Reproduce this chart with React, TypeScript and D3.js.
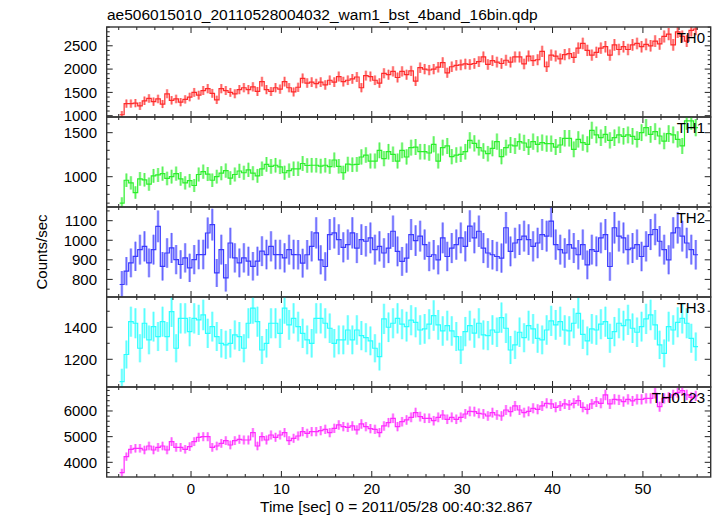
import React from "react";
import * as d3 from "d3";

const TITLE = "ae506015010_20110528004032_wam1_bst_4band_16bin.qdp";
const X_LABEL = "Time [sec] 0 = 2011/05/28 00:40:32.867";
const Y_LABEL = "Counts/sec";
const BIN_START = -7.9;
const BIN_WIDTH = 0.5;
const X_DOMAIN = [-9.33, 57.5];
const X_MAJOR = [0, 10, 20, 30, 40, 50];
const X_MINOR_STEP = 2;

const TH0 = [
  1020, 1260, 1260, 1270, 1210, 1320, 1370, 1300, 1360, 1250,
  1470, 1330, 1360, 1290, 1350, 1400, 1500, 1440, 1540, 1580,
  1480, 1340, 1580, 1540, 1500, 1470, 1560, 1600, 1560, 1620,
  1520, 1730, 1560, 1520, 1600, 1570, 1730, 1600, 1510, 1610,
  1800, 1700, 1720, 1690, 1720, 1660, 1760, 1720, 1840, 1730,
  1760, 1790, 1830, 1600, 1860, 1840, 1760, 1700, 1910, 1880,
  1950, 1820, 1950, 1880, 1960, 1740, 2030, 2000, 1980, 2000,
  2040, 2140, 1920, 2050, 2080, 2090, 2110, 2100, 2120, 2160,
  2260, 2100, 2180, 2150, 2120, 2190, 2150, 2260, 2260, 2110,
  2280, 2180, 2200, 2380, 2050, 2300, 2280, 2220, 2310, 2330,
  2250, 2450, 2550, 2400, 2300, 2360, 2450, 2480, 2300, 2520,
  2420, 2480, 2420, 2520, 2550, 2480, 2530, 2500, 2600, 2540,
  2700, 2750, 2520, 2800, 2700, 2600, 2830, 2860,
];

const TH1 = [
  700, 960, 930, 820, 975, 965, 915, 1010, 1020, 1035,
  980, 1000, 1035, 975, 930, 955, 900, 1025, 1057, 1030,
  960, 1000, 1040, 1070, 985, 1025, 1065, 1045, 1078, 1040,
  1010, 1090, 1140, 1117, 1130, 1112, 1045, 1070, 1090, 1090,
  1150, 1127, 1130, 1130, 1120, 1130, 1115, 1190, 1118, 1045,
  1142, 1136, 1140, 1224, 1246, 1178, 1178, 1300, 1205, 1284,
  1254, 1178, 1300, 1224, 1330, 1337, 1284, 1284, 1269, 1368,
  1178, 1330, 1349, 1227, 1246, 1254, 1284, 1413, 1379, 1330,
  1292, 1262, 1322, 1398, 1227, 1330, 1360, 1349, 1398, 1383,
  1337, 1398, 1368, 1387, 1375, 1375, 1337, 1360, 1436, 1436,
  1311, 1424, 1387, 1368, 1527, 1474, 1443, 1481, 1413, 1443,
  1474, 1459, 1474, 1459, 1424, 1500, 1557, 1481, 1512, 1462,
  1405, 1489, 1474, 1424, 1349, 1633, 1633, 1557,
];

const TH2 = [
  774, 842, 884, 918, 952, 969, 884, 952, 1071, 867,
  935, 961, 901, 876, 910, 859, 901, 927, 927, 1037,
  1080, 833, 952, 808, 986, 910, 884, 910, 893, 867,
  893, 944, 927, 969, 927, 927, 910, 952, 927, 926,
  883, 926, 969, 1038, 900, 866, 1029, 1038, 1003, 964,
  978, 1038, 960, 1003, 995, 1012, 952, 969, 935, 960,
  1046, 943, 892, 909, 1029, 998, 1021, 978, 917, 926,
  900, 1012, 917, 960, 978, 1012, 969, 1072, 1012, 1046,
  960, 935, 926, 917, 909, 1064, 943, 986, 1003, 1021,
  1003, 969, 986, 1029, 1021, 1098, 978, 952, 935, 978,
  960, 926, 978, 874, 952, 943, 1012, 1029, 866, 1064,
  1021, 1012, 952, 960, 978, 917, 969, 1029, 1055, 995,
  952, 900, 1038, 1064, 1021, 986, 952, 926,
];

const TH3 = [
  1060, 1230, 1435, 1425, 1269, 1425, 1321, 1404, 1342, 1435,
  1342, 1498, 1269, 1456, 1456, 1373, 1456, 1446, 1477, 1362,
  1404, 1342, 1300, 1290, 1300, 1352, 1342, 1269, 1425, 1519,
  1435, 1258, 1300, 1425, 1425, 1362, 1519, 1415, 1456, 1404,
  1362, 1321, 1300, 1456, 1456, 1425, 1394, 1300, 1321, 1321,
  1383, 1321, 1383, 1348, 1335, 1315, 1269, 1217, 1452, 1400,
  1425, 1456, 1419, 1404, 1444, 1431, 1383, 1390, 1419, 1473,
  1415, 1377, 1410, 1377, 1342, 1258, 1373, 1410, 1363, 1425,
  1352, 1348, 1383, 1369, 1460, 1394, 1258, 1290, 1369, 1335,
  1410, 1390, 1331, 1321, 1383, 1440, 1415, 1435, 1383, 1377,
  1425, 1487, 1356, 1315, 1390, 1383, 1419, 1435, 1331, 1373,
  1425, 1410, 1446, 1394, 1369, 1404, 1452, 1477, 1415, 1290,
  1237, 1404, 1383, 1431, 1456, 1425, 1331, 1279,
];

const TH0123 = [
  3597, 4220, 4506, 4545, 4545, 4480, 4636, 4480, 4584, 4636,
  4480, 4805, 4584, 4584, 4506, 4610, 4805, 4974, 5000, 5000,
  4584, 4636, 4740, 4844, 4675, 4844, 4896, 4870, 4870, 5156,
  4636, 5000, 4870, 5065, 4974, 5065, 5156, 4844, 4935, 5026,
  5195, 5130, 5195, 5195, 5234, 5286, 5156, 5325, 5455, 5390,
  5364, 5416, 5260, 5494, 5390, 5312, 5286, 5156, 5416, 5546,
  5714, 5390, 5584, 5650, 5753, 5935, 5779, 5714, 5714, 5623,
  5753, 5844, 5675, 5753, 5675, 5753, 5883, 5987, 5974, 5909,
  5883, 5805, 5935, 5844, 5805, 6039, 5974, 6195, 6039, 5935,
  5987, 6104, 6065, 6195, 6299, 6273, 6143, 6195, 6273, 6234,
  6299, 6403, 6143, 6065, 6273, 6351, 6299, 6624, 6273, 6455,
  6429, 6364, 6455, 6390, 6455, 6455, 6494, 6494, 6689, 6169,
  6494, 6533, 6624, 6715, 6793, 6624, 6533, 6585,
];

const PANEL_NAMES = ["TH0", "TH1", "TH2", "TH3", "TH0123"];
const PANEL_SERIES = [TH0, TH1, TH2, TH3, TH0123];
const PANEL_DOMAINS = [
  [972, 2903],
  [656, 1678],
  [710, 1170],
  [1027, 1589],
  [3428, 6934],
];
const PANEL_MAJOR_TICKS = [
  [1000, 1500, 2000, 2500],
  [1000, 1500],
  [800, 900, 1000, 1100],
  [1200, 1400],
  [4000, 5000, 6000],
];
const PANEL_MINOR_STEP = [100, 100, 50, 100, 200];
const PANEL_COLORS = ["#ff2a2a", "#2af02a", "#3a3aff", "#2affff", "#ff2aff"];

const W = 717;
const H = 516;
const LEFT = 106.7;
const RIGHT = 710.7;
const TOP = 27;
const PH = 90;
const FONT = "'Liberation Sans', Arial, Helvetica, sans-serif";

function Panel({ idx, x }: { idx: number; x: d3.ScaleLinear<number, number> }) {
  const top = TOP + idx * PH;
  const bottom = top + PH;
  const dom = PANEL_DOMAINS[idx];
  const y = d3.scaleLinear().domain(dom).range([bottom, top]);
  const vals = PANEL_SERIES[idx];
  const color = PANEL_COLORS[idx];
  const pts: [number, number][] = [];
  vals.forEach((v, j) => {
    pts.push([BIN_START + j * BIN_WIDTH, v]);
    pts.push([BIN_START + (j + 1) * BIN_WIDTH, v]);
  });
  const line = d3
    .line<[number, number]>()
    .x((d) => x(d[0]))
    .y((d) => y(d[1]));
  const minorStep = PANEL_MINOR_STEP[idx];
  const minorTicks = d3
    .range(Math.ceil(dom[0] / minorStep) * minorStep, dom[1], minorStep)
    .filter((v) => !PANEL_MAJOR_TICKS[idx].includes(v));
  const xMinor = d3
    .range(Math.ceil(X_DOMAIN[0] / X_MINOR_STEP) * X_MINOR_STEP, X_DOMAIN[1], X_MINOR_STEP)
    .filter((v) => !X_MAJOR.includes(v));
  const clipId = `clip${idx}`;
  return (
    <g>
      <defs>
        <clipPath id={clipId}>
          <rect x={LEFT} y={top} width={RIGHT - LEFT} height={PH} />
        </clipPath>
      </defs>
      <g clipPath={`url(#${clipId})`}>
        {vals.map((v, j) => {
          const err = 1.75 * Math.sqrt(v / BIN_WIDTH);
          const cx = x(BIN_START + (j + 0.5) * BIN_WIDTH);
          return (
            <g key={j}>
              <line
                x1={cx}
                x2={cx}
                y1={y(v - err)}
                y2={y(v + err)}
                stroke={color}
                strokeOpacity={0.45}
                strokeWidth={2.6}
              />
              <line
                x1={cx}
                x2={cx}
                y1={y(v - err)}
                y2={y(v + err)}
                stroke={color}
                strokeOpacity={0.8}
                strokeWidth={0.8}
              />
            </g>
          );
        })}
        <path d={line(pts) || ""} fill="none" stroke={color} strokeWidth={1.2} />
      </g>
      {PANEL_MAJOR_TICKS[idx].map((t) => (
        <g key={"M" + t}>
          <line x1={LEFT} x2={LEFT + 6} y1={y(t)} y2={y(t)} stroke="#222" strokeWidth={1} />
          <line x1={RIGHT} x2={RIGHT - 6} y1={y(t)} y2={y(t)} stroke="#222" strokeWidth={1} />
          <text
            x={97}
            y={y(t)}
            dy="0.36em"
            textAnchor="end"
            fontSize={15}
            fontFamily={FONT}
            fill="#000"
          >
            {t}
          </text>
        </g>
      ))}
      {minorTicks.map((t) => (
        <g key={"m" + t}>
          <line x1={LEFT} x2={LEFT + 3} y1={y(t)} y2={y(t)} stroke="#222" strokeWidth={1} />
          <line x1={RIGHT} x2={RIGHT - 3} y1={y(t)} y2={y(t)} stroke="#222" strokeWidth={1} />
        </g>
      ))}
      {X_MAJOR.map((t) => (
        <g key={"xM" + t}>
          <line x1={x(t)} x2={x(t)} y1={top} y2={top + 6} stroke="#222" strokeWidth={1} />
          <line x1={x(t)} x2={x(t)} y1={bottom} y2={bottom - 6} stroke="#222" strokeWidth={1} />
        </g>
      ))}
      {xMinor.map((t) => (
        <g key={"xm" + t}>
          <line x1={x(t)} x2={x(t)} y1={top} y2={top + 3} stroke="#222" strokeWidth={1} />
          <line x1={x(t)} x2={x(t)} y1={bottom} y2={bottom - 3} stroke="#222" strokeWidth={1} />
        </g>
      ))}
      <rect
        x={LEFT}
        y={top}
        width={RIGHT - LEFT}
        height={PH}
        fill="none"
        stroke="#333"
        strokeWidth={1.4}
      />
      <text
        x={705}
        y={top + 16}
        textAnchor="end"
        fontSize={15}
        fontFamily={FONT}
        fill="#000"
      >
        {PANEL_NAMES[idx]}
      </text>
    </g>
  );
}

export default function App() {
  const x = d3.scaleLinear().domain(X_DOMAIN).range([LEFT, RIGHT]);
  const lastBottom = TOP + PANEL_NAMES.length * PH;
  return (
    <svg
      width={W}
      height={H}
      style={{ position: "absolute", left: 0, top: 0, background: "#fff" }}
    >
      <rect x={0} y={0} width={W} height={H} fill="#fff" />
      <text x={107} y={19.5} fontSize={15.5} fontFamily={FONT} fill="#000">
        {TITLE}
      </text>
      {PANEL_NAMES.map((_, i) => (
        <Panel key={i} idx={i} x={x} />
      ))}
      {X_MAJOR.map((t) => (
        <text
          key={"xl" + t}
          x={x(t)}
          y={lastBottom + 16.5}
          textAnchor="middle"
          fontSize={15}
          fontFamily={FONT}
          fill="#000"
        >
          {t}
        </text>
      ))}
      <text x={260} y={511.5} fontSize={15.5} fontFamily={FONT} fill="#000">
        {X_LABEL}
      </text>
      <text
        transform={`translate(47, ${TOP + (PANEL_NAMES.length * PH) / 2}) rotate(-90)`}
        textAnchor="middle"
        fontSize={15}
        fontFamily={FONT}
        fill="#000"
      >
        {Y_LABEL}
      </text>
    </svg>
  );
}
